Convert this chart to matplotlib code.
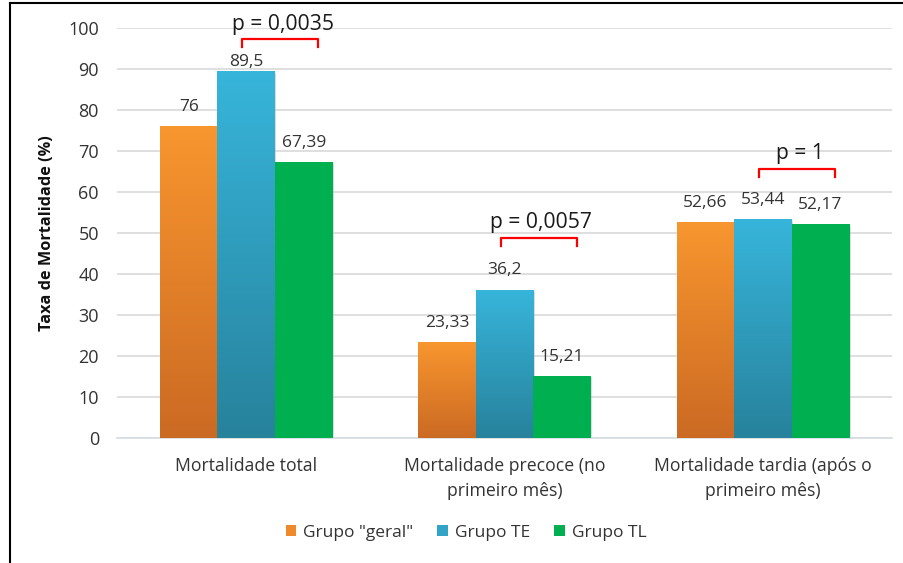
import numpy as np
import matplotlib
matplotlib.use("Agg")
import matplotlib.pyplot as plt
from matplotlib.colors import LinearSegmentedColormap
from matplotlib.patches import Patch
from matplotlib.lines import Line2D

plt.rcParams['font.family'] = ['Open Sans', 'DejaVu Sans']

categories = ["Mortalidade total", "Mortalidade precoce (no\nprimeiro mês)",
              "Mortalidade tardia (após o\nprimeiro mês)"]
series = ['Grupo "geral"', "Grupo TE", "Grupo TL"]
geral = [76, 23.33, 52.66]
te = [89.5, 36.2, 53.44]
tl = [67.39, 15.21, 52.17]
value_labels = [["76", "23,33", "52,66"], ["89,5", "36,2", "53,44"], ["67,39", "15,21", "52,17"]]
# label gap above each bar, in points (the 89,5 label sits lower, under the bracket)
label_gap = [[8, 8, 8], [0.5, 8, 8], [8, 8, 8]]
p_values = ["p = 0,0035", "p = 0,0057", "p = 1"]
# bracket height (top, tips) and text height for each p-value, in axis units
bracket_y = [97.3, 48.8, 65.6]
p_text_y = [100.8, 52.6, 69.3]

# gradient top/bottom colours per group
grads = [("#F8962F", "#CB6A23"), ("#37B5DB", "#27829C"), ("#00B050", "#00B050")]

fig = plt.figure(figsize=(9.04, 5.63), dpi=100)
ax = fig.add_axes([117 / 904, 1 - 438 / 563, 775 / 904, 410 / 563])

x = np.arange(len(categories))
w = 0.2225

for k, vals in enumerate([geral, te, tl]):
    top, bottom = grads[k]
    cmap = LinearSegmentedColormap.from_list("g%d" % k, [bottom, top])
    bars = ax.bar(x + (k - 1) * w, vals, w, color="none", zorder=3)
    for b, v, lab, gap in zip(bars, vals, value_labels[k], label_gap[k]):
        x0 = b.get_x()
        # soft drop shadow
        ax.bar(x0 + w / 2 + 0.006, v, w, bottom=-0.4, color="#bbbbbb",
               alpha=0.5, zorder=2)
        grad = np.linspace(0, 1, 256).reshape(-1, 1)
        im = ax.imshow(grad, cmap=cmap, origin="lower", aspect="auto",
                       extent=(x0, x0 + w, 0, v), zorder=3)
        im.set_clip_path(b)
        ax.annotate(lab, (x0 + w / 2, v), xytext=(0, gap), textcoords="offset points",
                    ha="center", va="bottom", fontsize=12.5, color="#333333")

ax.set_xlim(-0.5, 2.5)
ax.set_ylim(0, 100)

# significance brackets between TE and TL
for i, (p, by, ty) in enumerate(zip(p_values, bracket_y, p_text_y)):
    xl = x[i] - 0.015
    xr = x[i] + w + 0.057
    ax.plot([xl, xl, xr, xr], [by - 1.9, by, by, by - 1.9], color="#FF0000",
            lw=1.6, zorder=4, clip_on=False)
    ax.text((xl + xr) / 2 + 0.01, ty, p, ha="center", va="center",
            fontsize=15.2, color="#1a1a1a", zorder=5)

ax.set_yticks(np.arange(0, 101, 10))
ax.tick_params(axis="y", length=0, labelsize=13, labelcolor="#333333", pad=13)
ax.set_xticks(x)
ax.set_xticklabels(categories, fontsize=12.7, color="#333333", linespacing=1.45)
ax.tick_params(axis="x", length=0, pad=14)
ax.grid(axis="y", color="#d9d9d9", lw=1.2, zorder=0)
ax.set_axisbelow(True)
for s in ["top", "right", "left"]:
    ax.spines[s].set_visible(False)
ax.spines["bottom"].set_color("#d6dce4")
ax.spines["bottom"].set_linewidth(1.2)

ax.set_ylabel("Taxa de Mortalidade (%)", fontsize=11.7, fontweight="bold",
              color="#111111")
ax.yaxis.set_label_coords(-0.08, 0.5)

handles = [Patch(facecolor=c, edgecolor="none") for c in ["#EE8A2C", "#31A4C7", "#00B050"]]
fig.legend(handles, series, loc="center", bbox_to_anchor=(466 / 904, 1 - 533 / 563),
           ncol=3, frameon=False, fontsize=12.5, handlelength=0.6, handleheight=0.6,
           handletextpad=0.4, columnspacing=1.4, labelcolor="#333333")

# outer frame (left and top edges)
fig.add_artist(Line2D([9.5 / 904, 9.5 / 904], [0, 1 - 3 / 563], color="black", lw=1.5))
fig.add_artist(Line2D([9.5 / 904, 1], [1 - 3 / 563, 1 - 3 / 563], color="black", lw=1.5))

fig.savefig("out.png", dpi=100, facecolor="white")
